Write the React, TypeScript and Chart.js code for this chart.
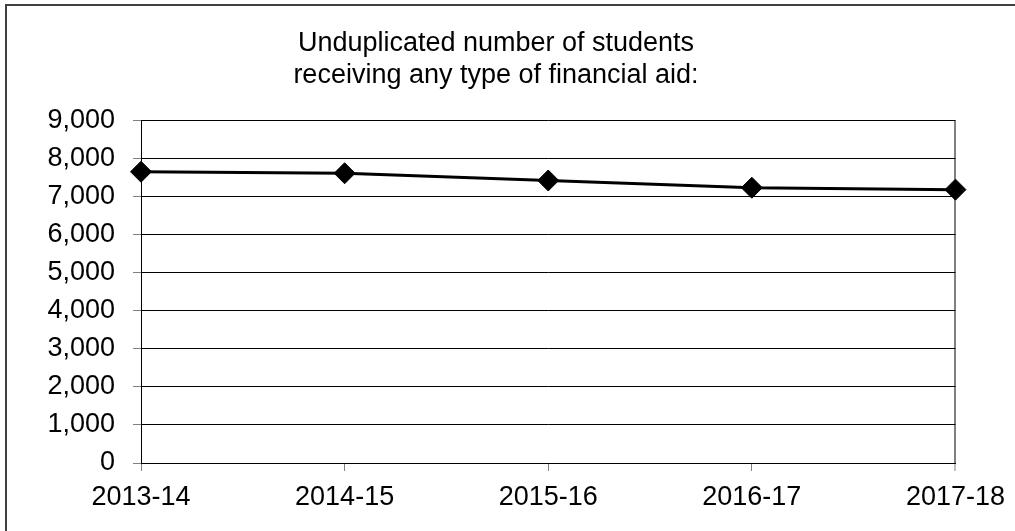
import React, { useEffect, useRef } from "react";
import { Chart, registerables } from "chart.js";

Chart.register(...registerables);

const categories = ["2013-14", "2014-15", "2015-16", "2016-17", "2017-18"];
const studentsAided = [7650, 7610, 7420, 7230, 7180];
const titleLines = ["Unduplicated number of students", "receiving any type of financial aid:"];
const yMin = 0;
const yMax = 9000;
const yStep = 1000;

const FONT = "'Liberation Sans', Arial, sans-serif";

export default function App() {
  const canvasRef = useRef<HTMLCanvasElement | null>(null);

  useEffect(() => {
    const canvas = canvasRef.current;
    if (!canvas) return;
    const chart = new Chart(canvas, {
      type: "line",
      data: {
        labels: categories,
        datasets: [
          {
            data: studentsAided,
            borderColor: "#000000",
            backgroundColor: "#000000",
            borderWidth: 3,
            pointStyle: "rectRot",
            pointRadius: 10.5,
            pointHoverRadius: 10.5,
            pointBackgroundColor: "#000000",
            pointBorderColor: "#000000",
            pointBorderWidth: 1,
            tension: 0,
            clip: false,
          },
        ],
      },
      options: {
        animation: false,
        responsive: true,
        maintainAspectRatio: false,
        devicePixelRatio: 1,
        layout: { padding: { left: 35, right: 58, top: 0, bottom: 0 } },
        plugins: {
          legend: { display: false },
          tooltip: { enabled: false },
          title: {
            display: true,
            text: titleLines,
            color: "#000000",
            font: { family: FONT, size: 27, weight: "normal", lineHeight: 1.21 },
            padding: { top: 27, bottom: 28 },
          },
        },
        scales: {
          x: {
            type: "category",
            offset: false,
            grid: {
              display: true,
              drawOnChartArea: true,
              drawTicks: true,
              tickLength: 8,
              color: (ctx: any) => (ctx.index === categories.length - 1 ? "#808080" : "rgba(0,0,0,0)"),
              lineWidth: (ctx: any) => (ctx.index === categories.length - 1 ? 2 : 1),
              tickColor: "#808080",
              tickWidth: 1,
            },
            border: { display: true, color: "#000000", width: 1 },
            ticks: {
              color: "#000000",
              font: { family: FONT, size: 27 },
              padding: 10,
              maxRotation: 0,
              autoSkip: false,
            },
            afterFit: (scale: any) => {
              scale.height = 68;
            },
          },
          y: {
            min: yMin,
            max: yMax,
            grid: {
              color: "#000000",
              lineWidth: 1,
              drawTicks: true,
              tickLength: 8,
              tickColor: "#808080",
            },
            border: { display: true, color: "#000000", width: 1 },
            ticks: {
              stepSize: yStep,
              color: "#000000",
              font: { family: FONT, size: 27 },
              padding: 18,
              callback: (v: any) => Number(v).toLocaleString("en-US"),
            },
            afterFit: (scale: any) => {
              scale.width = 106;
            },
          },
        },
      },
    });
    return () => chart.destroy();
  }, []);

  return (
    <div
      style={{
        position: "fixed",
        left: 0,
        top: 0,
        width: 1015,
        height: 531,
        overflow: "hidden",
        background: "#ffffff",
      }}
    >
      <div
        style={{
          position: "absolute",
          left: 5,
          top: 4,
          width: 1100,
          height: 600,
          borderLeft: "2px solid #404040",
          borderTop: "2px solid #404040",
          boxSizing: "border-box",
        }}
      />
      <div style={{ position: "absolute", left: 0, top: 0, width: 1015, height: 531 }}>
        <canvas ref={canvasRef} />
      </div>
    </div>
  );
}
